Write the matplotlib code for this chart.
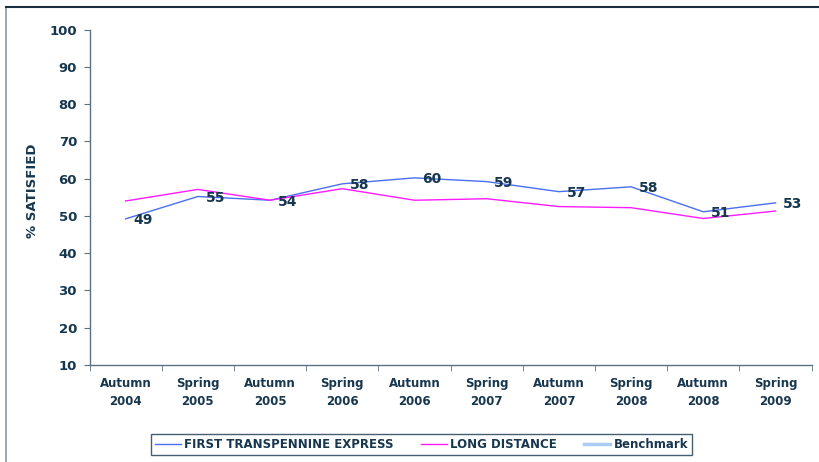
import matplotlib.pyplot as plt
from matplotlib.lines import Line2D

# data
periods = ["Autumn\n2004", "Spring\n2005", "Autumn\n2005", "Spring\n2006", "Autumn\n2006",
           "Spring\n2007", "Autumn\n2007", "Spring\n2008", "Autumn\n2008", "Spring\n2009"]
tpe = [49.2, 55.2, 54.2, 58.6, 60.2, 59.2, 56.5, 57.8, 51.1, 53.5]
tpe_labels = [49, 55, 54, 58, 60, 59, 57, 58, 51, 53]
long_distance = [54.0, 57.1, 54.2, 57.3, 54.2, 54.6, 52.5, 52.2, 49.3, 51.3]

navy = "#17374f"
axis_col = "#5b7183"

fig = plt.figure(figsize=(8.19, 4.62), dpi=100)
ax = fig.add_axes([0.1093, 0.2100, 0.8817, 0.7261])

x = list(range(len(periods)))
ax.plot(x, tpe, color="#4a6ff0", lw=1.0, label="FIRST TRANSPENNINE EXPRESS")
ax.plot(x, long_distance, color="#ff1aff", lw=1.0, label="LONG DISTANCE")
ax.plot([], [], color="#a9cdf5", lw=2.5, label="Benchmark")

for xi, yi, lab in zip(x, tpe, tpe_labels):
    ax.annotate(str(lab), (xi, yi), xytext=(12.5, -1), textcoords="offset points",
                ha="center", va="center", fontsize=10, fontweight="bold", color=navy)

ax.set_ylim(10, 100)
ax.set_yticks(range(10, 101, 10))
ax.set_xlim(-0.5, len(periods) - 0.5)
ax.set_xticks(x)
ax.set_xticklabels(periods, fontsize=8.5, fontweight="bold", color=navy, linespacing=1.45)
ax.set_xticks([i - 0.5 for i in range(len(periods) + 1)], minor=True)
ax.tick_params(axis="x", which="major", length=0, pad=9)
ax.tick_params(axis="x", which="minor", length=4, color=axis_col, direction="out")
ax.tick_params(axis="y", length=4, color=axis_col, labelsize=9.5, labelcolor=navy, pad=5)
for t in ax.get_yticklabels():
    t.set_fontweight("bold")

for s in ["top", "right"]:
    ax.spines[s].set_visible(False)
for s in ["left", "bottom"]:
    ax.spines[s].set_color(axis_col)
    ax.spines[s].set_linewidth(1.0)

fig.text(0.040, 0.588, "% SATISFIED", rotation=90, ha="center", va="center",
         fontsize=9.5, fontweight="bold", color=navy)

leg = fig.legend(loc="center", bbox_to_anchor=(0.5147, 0.0379), ncol=3, frameon=True,
                 fancybox=False, fontsize=8.5, handlelength=2.2, columnspacing=2.3,
                 borderpad=0.35, handletextpad=0.3)
leg.get_frame().set_edgecolor(navy)
leg.get_frame().set_linewidth(1.0)
for t in leg.get_texts():
    t.set_fontweight("bold")
    t.set_color(navy)

# outer chart frame
fig.add_artist(Line2D([6 / 819, 6 / 819], [0, 1 - 7 / 462], color="#8a9aa8", lw=1.2,
                      transform=fig.transFigure))
fig.add_artist(Line2D([6 / 819, 1], [1 - 7 / 462, 1 - 7 / 462], color="#1a3040", lw=1.5,
                      transform=fig.transFigure))

fig.savefig("out.png", dpi=100)
